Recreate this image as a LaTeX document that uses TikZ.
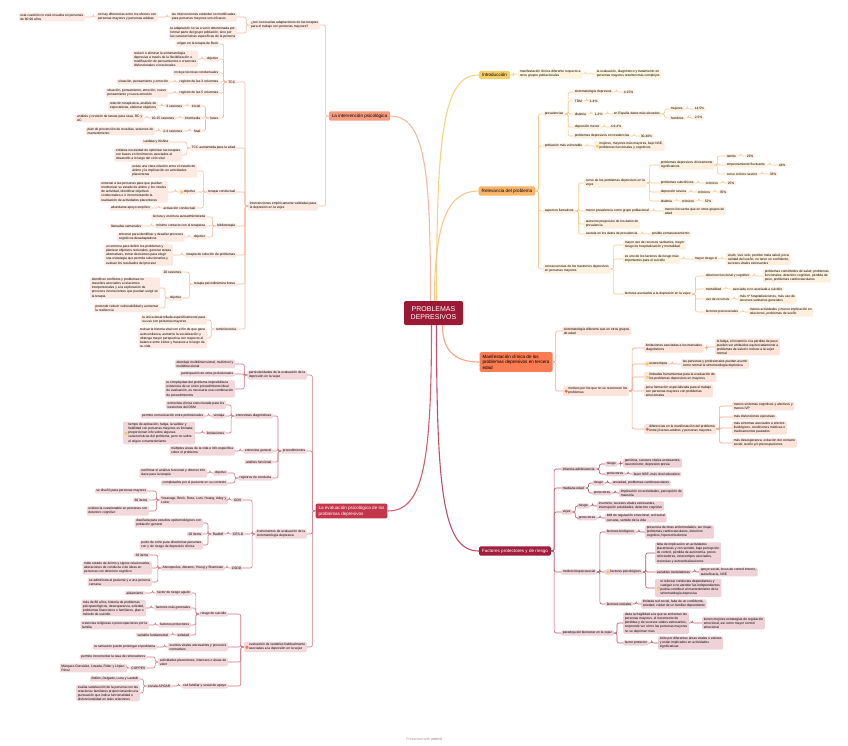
\documentclass[tikz,border=0pt]{standalone}
\usepackage{fontspec}
\setmainfont{Liberation Sans}
\usetikzlibrary{positioning}

\definecolor{pdFill}{HTML}{9A1A35}
\definecolor{ivFill}{HTML}{FCE9E1}
\definecolor{ivLine}{HTML}{F6B8A2}
\definecolor{ivMain}{HTML}{F59C7E}
\definecolor{evFill}{HTML}{F2D7DB}
\definecolor{evLine}{HTML}{D07585}
\definecolor{evMain}{HTML}{C3364B}
\definecolor{inFill}{HTML}{FDF5DD}
\definecolor{inLine}{HTML}{F3D47F}
\definecolor{inMain}{HTML}{F4D068}
\definecolor{reFill}{HTML}{FEF0DF}
\definecolor{reLine}{HTML}{FAC78D}
\definecolor{reMain}{HTML}{FBB46A}
\definecolor{maFill}{HTML}{FCE4DA}
\definecolor{maLine}{HTML}{F7A487}
\definecolor{maMain}{HTML}{F97C52}
\definecolor{faFill}{HTML}{EFD2D8}
\definecolor{faLine}{HTML}{BD4F6B}
\definecolor{faMain}{HTML}{A21D3D}
\definecolor{iconYel}{HTML}{F5BE1A}
\definecolor{iconYelL}{HTML}{FCE27A}
\definecolor{iconRed}{HTML}{E8553A}

\newcommand\icony{\tikz[baseline=-1pt]{\fill[iconYel] (0,0) circle (1.5pt); \fill[iconYelL] (0,0) circle (0.7pt);}}
\newcommand\iconr{\tikz[baseline=-1pt]{\draw[iconRed, line width=0.45pt, fill=white] (0,0) circle (1.25pt); \fill[iconRed] (0,0) circle (0.55pt);}}
\newcommand\blk[1]{\begin{tabular}[c]{@{}l@{}}#1\end{tabular}}

\tikzset{
  txt/.style={rounded corners=1.2pt, inner xsep=1.6pt, inner ysep=1pt, align=left,
    font=\fontsize{3.3}{4.1}\selectfont},
  ivbox/.style={txt, fill=ivFill, anchor=east},
  evbox/.style={txt, fill=evFill, anchor=east},
  inbox/.style={txt, fill=inFill, anchor=west},
  rebox/.style={txt, fill=reFill, anchor=west},
  mabox/.style={txt, fill=maFill, anchor=west},
  fabox/.style={txt, fill=faFill, anchor=west},
  mainbox/.style={rounded corners=1.5pt, inner xsep=3pt, inner ysep=2.5pt, align=left,
    font=\fontsize{4.6}{5.6}\selectfont},
  pdbox/.style={rounded corners=2pt, fill=pdFill, text=white, align=center,
    minimum width=59pt, minimum height=24pt, font=\fontsize{7}{8.5}\selectfont},
  ivline/.style={draw=ivLine, line width=0.6pt, rounded corners=2pt},
  evline/.style={draw=evLine, line width=0.6pt, rounded corners=2pt},
  introline/.style={draw=inLine, line width=0.6pt, rounded corners=2pt},
  reline/.style={draw=reLine, line width=0.6pt, rounded corners=2pt},
  maline/.style={draw=maLine, line width=0.6pt, rounded corners=2pt},
  faline/.style={draw=faLine, line width=0.6pt, rounded corners=2pt},
}

\begin{document}
\begin{tikzpicture}[x=1pt,y=-1pt]
\useasboundingbox (0,0) rectangle (848,745);

% centre and main branches
\node[pdbox] (pd) at (433.5,313) {PROBLEMAS\\DEPRESIVOS};
\node[mainbox, fill=ivMain] (iM) at (359.5,116) {La intervención psicológica};
\node[mainbox, fill=evMain, text=white] (eM) at (351.5,511) {La evaluación psicológica de los\\problemas depresivos};
\node[mainbox, fill=inMain] (nM) at (494.5,75) {Introducción};
\node[mainbox, fill=reMain] (rM) at (507,191) {Relevancia del problema};
\node[mainbox, fill=maMain] (mM) at (516,362) {Manifestación clínica de los\\problemas depresivos en tercera\\edad};
\node[mainbox, fill=faMain, text=white] (fM) at (515,551) {Factores protectores y de riesgo};

% la intervencion psicologica
\node[ivbox] (i1) at (85,17) {esta cuestión no está resuelta en personas\\de 80-90 años};
\node[ivbox] (i2) at (158,17) {no hay diferencias entre los efectos con\\personas mayores y personas adultas};
\node[ivbox] (i3) at (237,17) {las intervenciones estándar no modificadas\\para personas mayores son eficaces};
\node[ivbox] (i4) at (237,33) {la adaptación no va a venir determinada por\\formar parte del grupo población, sino por\\las características específicas de la persona};
\node[ivbox] (i5) at (320,25) {¿son necesarias adaptaciones de las terapias\\para el trabajo con personas mayores?};
\node[ivbox] (i6) at (318,206) {intervenciones empíricamente validadas para\\la depresión en la vejez};

\node[ivbox] (iT) at (237,82) {TCC};
\node[ivbox] (iT1) at (220,44) {origen en la terapia de Beck};
\node[ivbox] (iT2) at (220,59) {objetivo};
\node[ivbox] (iT2a) at (198,59) {reducir o eliminar la sintomatología\\depresiva a través de la flexibilización o\\modificación de pensamientos o creencias\\disfuncionales o irracionales};
\node[ivbox] (iT3) at (220,73) {incluye técnicas conductuales};
\node[ivbox] (iT4) at (220,82) {registro de las 3 columnas};
\node[ivbox] (iT4a) at (170,82) {situación, pensamiento y emoción};
\node[ivbox] (iT5) at (220,93) {registro de las 5 columnas};
\node[ivbox] (iT5a) at (168,93) {situación, pensamiento, emoción, nuevo\\pensamiento y nueva emoción};
\node[ivbox] (iT6) at (220,118) {fases};
\node[ivbox] (iF1) at (202,106) {inicial};
\node[ivbox] (iF1a) at (184,106) {3 sesiones};
\node[ivbox] (iF1b) at (158,106) {relación terapéutica, análisis de\\expectativas, elaborar objetivos};
\node[ivbox] (iF2) at (202,118) {intermedia};
\node[ivbox] (iF2a) at (176,118) {10-15 sesiones};
\node[ivbox] (iF2b) at (144,118) {análisis y revisión de tareas para casa, RC y\\AC};
\node[ivbox] (iF3) at (202,131) {final};
\node[ivbox] (iF3a) at (184,131) {2-4 sesiones};
\node[ivbox] (iF3b) at (155,131) {plan de prevención de recaídas, sesiones de\\mantenimiento};

\node[ivbox] (iA) at (237,148) {TCC aumentada para la edad};
\node[ivbox] (iA1) at (170,142) {Laidlaw y Kishita};
\node[ivbox] (iA2) at (182,155) {enfatiza necesidad de optimizar las terapias\\con bases en fenómenos asociados al\\desarrollo a lo largo del ciclo vital};

\node[ivbox] (iC) at (237,192) {terapia conductual};
\node[ivbox] (iC1) at (197,171) {existe una clara relación entre el estado de\\ánimo y la implicación en actividades\\placenteras};
\node[ivbox] (iC2) at (197,192) {\icony\,objetivo};
\node[ivbox] (iC2a) at (168,192) {entrenar a las personas para que puedan\\monitorizar su estado de ánimo y los niveles\\de actividad, identificar objetivos\\conductuales e ir incrementando la\\realización de actividades placenteras};
\node[ivbox] (iC3) at (197,208) {activación conductual};
\node[ivbox] (iC3a) at (152,208) {abundante apoyo empírico};

\node[ivbox] (iB) at (237,226) {biblioterapia};
\node[ivbox] (iB1) at (207,217) {lectura y escritura autoadministrada};
\node[ivbox] (iB2) at (207,226) {mínimo contacto con el terapeuta};
\node[ivbox] (iB2a) at (143,226) {llamadas semanales};
\node[ivbox] (iB3) at (207,237) {objetivo};
\node[ivbox] (iB3a) at (185,237) {entrenar para identificar y desafiar procesos\\cognitivos desadaptativos};

\node[ivbox] (iS) at (237,255) {terapia de solución de problemas};
\node[ivbox] (iS1) at (173,255) {un entrena para definir los problemas y\\plantear objetivos racionales, generar tareas\\alternativas, tomar decisiones para elegir\\una estrategia que permita solucionarlos y\\evaluar los resultados del proceso};

\node[ivbox] (iP) at (237,284) {terapia psicodinámica breve};
\node[ivbox] (iP1) at (183,272) {20 sesiones};
\node[ivbox] (iP2) at (183,298) {objetivo};
\node[ivbox] (iP2a) at (160,288) {identificar conflictos y problemas no\\resueltos asociados a relaciones\\interpersonales y a la exploración de\\procesos inconscientes que puedan surgir en\\la terapia};
\node[ivbox] (iP3) at (160,308) {pretende reducir vulnerabilidad y aumentar\\la resiliencia};

\node[ivbox] (iR) at (238,329) {reminiscencia};
\node[ivbox] (iR1) at (207,320) {la única desarrollada específicamente para\\su uso con personas mayores};
\node[ivbox] (iR2) at (207,338) {revisar la historia vital con el fin de que gane\\autoconfianza, aumente la socialización y\\obtenga mayor perspectiva con respecto al\\balance entre éxitos y fracasos a lo largo de\\su vida};

% la evaluacion psicologica
\node[evbox] (e1) at (307,375) {particularidades de la evaluación de la\\depresión en la vejez};
\node[evbox] (e1a) at (235,364) {abordaje multidimensional, multinivel y\\multidireccional};
\node[evbox] (e1b) at (235,374) {participación de otros profesionales};
\node[evbox] (e1c) at (235,389) {la complejidad del problema imposibilita la\\existencia de un único procedimiento ideal\\de evaluación, es necesaria una combinación\\de procedimientos};

\node[evbox] (e2) at (307,451) {procedimientos};
\node[evbox] (e2a) at (273,416) {entrevistas diagnósticas};
\node[evbox] (e2a1) at (226,405) {entrevista clínica estructurada para los\\trastornos del DSM};
\node[evbox] (e2a2) at (226,416) {ventaja};
\node[evbox] (e2a2a) at (205,416) {permite comunicación entre profesionales};
\node[evbox] (e2a3) at (226,433) {limitaciones};
\node[evbox] (e2a3a) at (195,433) {\icony\,\blk{tiempo de aplicación, fatiga, la validez y\\fiabilidad con personas mayores es limitada;\\proporcionan info sobre algunas\\características del problema, pero no sobre\\el origen o mantenimiento}};
\node[evbox] (e2b) at (273,451) {entrevista general};
\node[evbox] (e2b1) at (235,451) {múltiples áreas de la vida e info específica\\sobre el problema};
\node[evbox] (e2c) at (273,462) {análisis funcional};
\node[evbox] (e2d) at (273,478) {registros de conducta};
\node[evbox] (e2d1) at (228,473) {objetivo};
\node[evbox] (e2d1a) at (207,473) {confirmar el análisis funcional y obtener info\\clave para la terapia};
\node[evbox] (e2d2) at (228,483) {completados por el paciente en su contexto};

\node[evbox] (e3) at (307,534) {instrumentos de evaluación de la\\sintomatología depresiva};
\node[evbox] (e3a) at (243,500) {GDS};
\node[evbox] (e3a1) at (228,500) {Yesavage, Brink, Rose, Lum, Huang, Adey y\\Leirer};
\node[evbox] (e3a1a) at (148,491) {se diseñó para personas mayores};
\node[evbox] (e3a1b) at (149,500) {30 ítems};
\node[evbox] (e3a1c) at (149,511) {evidencia cuestionable en personas con\\deterioro cognitivo};
\node[evbox] (e3b) at (245,534) {CES-D};
\node[evbox] (e3b1) at (225,534) {Radloff};
\node[evbox] (e3b1a) at (203,523) {diseñada para estudios epidemiológicos con\\población general};
\node[evbox] (e3b1b) at (203,534) {20 ítems};
\node[evbox] (e3b1c) at (203,545) {punto de corte para discriminar personas\\con y sin riesgo de depresión clínica};
\node[evbox] (e3c) at (243,568) {CSDD};
\node[evbox] (e3c1) at (225,568) {Alexopoulos, Abrams, Young y Shamoian};
\node[evbox] (e3c1a) at (150,555) {19 ítems};
\node[evbox] (e3c1b) at (152,568) {mide estado de ánimo y signos relacionados,\\alteraciones de conducta o de ideas en\\personas con deterioro cognitivo};
\node[evbox] (e3c1c) at (152,582) {se administra al paciente y a una persona\\cercana};

\node[evbox] (e4) at (307,647) {\iconr\,\blk{evaluación de variables habitualmente\\asociadas a la depresión en la vejez}};
\node[evbox] (e4a) at (228,614) {riesgo de suicidio};
\node[evbox] (e4a1) at (192,593) {factor de riesgo agudo};
\node[evbox] (e4a1a) at (145,593) {aislamiento};
\node[evbox] (e4a2) at (192,608) {factores más generales};
\node[evbox] (e4a2a) at (146,608) {más de 80 años, historia de problemas\\psicopatológicos, desesperanza, soledad,\\problemas financieros o familiares, plan o\\método de suicidio};
\node[evbox] (e4a3) at (191,625) {factores protectores};
\node[evbox] (e4a3a) at (149,625) {creencias religiosas o preocupaciones por la\\familia};
\node[evbox] (e4a4) at (191,635) {soledad};
\node[evbox] (e4a4a) at (170,635) {variable fundamental};
\node[evbox] (e4b) at (228,647) {eventos vitales estresantes y procesos\\normativos};
\node[evbox] (e4b1) at (157,647) {la rumiación puede prolongar el problema};
\node[evbox] (e4c) at (228,662) {actividades placenteras, intereses o áreas de\\valor};
\node[evbox] (e4c1) at (147,657) {permite incrementar la tasa de reforzadores};
\node[evbox] (e4c2) at (147,668) {COPPES};
\node[evbox] (e4c2a) at (127,668) {Márquez-González, Losada, Rider y López-\\Pérez};
\node[evbox] (e4d) at (228,686) {red familiar y social de apoyo};
\node[evbox] (e4d1) at (172,686) {escala APGAR};
\node[evbox] (e4d1a) at (140,679) {Bellón, Delgado, Luna y Lardelli};
\node[evbox] (e4d1b) at (140,693) {evalúa satisfacción de la persona con las\\relaciones familiares proporcionando una\\puntuación que indica funcionalidad o\\disfuncionalidad en tales relaciones};

% introduccion
\node[inbox] (n1) at (518,74) {manifestación clínica diferente respecto a\\otros grupos poblacionales};
\node[inbox] (n2) at (595,74) {la evaluación, diagnóstico y tratamiento en\\personas mayores resultan más complejos};

% relevancia del problema
\node[rebox] (r1) at (543,114) {prevalencias};
\node[rebox] (r1a) at (573,92) {sintomatología depresiva};
\node[rebox] (r1a1) at (622,92) {4-15\%};
\node[rebox] (r1b) at (573,101) {TDM};
\node[rebox] (r1b1) at (588,101) {1-4\%};
\node[rebox] (r1c) at (573,114) {distimia};
\node[rebox] (r1c1) at (593,114) {1-2\%};
\node[rebox] (r1c2) at (612,114) {en España datos más elevados};
\node[rebox] (r1c3) at (669,109) {mujeres};
\node[rebox] (r1c3a) at (693,109) {14,5\%};
\node[rebox] (r1c4) at (669,118) {hombres};
\node[rebox] (r1c4a) at (693,118) {2,5\%};
\node[rebox] (r1d) at (573,127) {depresión menor};
\node[rebox] (r1d1) at (609,127) {4-9,4\%};
\node[rebox] (r1e) at (573,136) {problemas depresivos en residencias};
\node[rebox] (r1e1) at (639,136) {30-40\%};
\node[rebox] (r2) at (543,146) {población más vulnerable};
\node[rebox] (r2a) at (594,146) {\icony\,\blk{mujeres, mayores más mayores, bajo NSE,\\problemas funcionales y cognitivos}};
\node[rebox] (r3) at (543,211) {aspectos llamativos};
\node[rebox] (r3a) at (584,183) {curso de los problemas depresivos en la\\vejez};
\node[rebox] (r3a1) at (659,165) {problemas depresivos clínicamente\\significativos};
\node[rebox] (r3a1a) at (725,156) {remite};
\node[rebox] (r3a1a1) at (745,156) {23\%};
\node[rebox] (r3a1b) at (725,165) {empeoramiento fluctuante};
\node[rebox] (r3a1b1) at (777,165) {44\%};
\node[rebox] (r3a1c) at (725,174) {curso crónico severo};
\node[rebox] (r3a1c1) at (768,174) {33\%};
\node[rebox] (r3a2) at (659,183) {problemas subclínicos};
\node[rebox] (r3a2a) at (704,183) {crónicos};
\node[rebox] (r3a2b) at (726,183) {25\%};
\node[rebox] (r3a3) at (659,192) {depresión severa};
\node[rebox] (r3a3a) at (696,192) {crónicos};
\node[rebox] (r3a3b) at (718,192) {35\%};
\node[rebox] (r3a4) at (659,201) {distimia};
\node[rebox] (r3a4a) at (680,201) {crónicos};
\node[rebox] (r3a4b) at (703,201) {52\%};
\node[rebox] (r3b) at (584,211) {menor prevalencia como grupo poblacional};
\node[rebox] (r3b1) at (663,211) {menos frecuente que en otros grupos de\\edad};
\node[rebox] (r3c) at (584,224) {aumento progresivo de los datos de\\prevalencia};
\node[rebox] (r3d) at (584,234) {cautela en los datos de prevalencia};
\node[rebox] (r3d1) at (650,234) {posible enmascaramiento};
\node[rebox] (r4) at (543,269) {consecuencias de los trastornos depresivos\\en personas mayores};
\node[rebox] (r4a) at (623,245) {mayor uso de recursos sanitarios, mayor\\riesgo de hospitalización y mortalidad};
\node[rebox] (r4b) at (623,259) {es uno de los factores de riesgo más\\importantes para el suicidio};
\node[rebox] (r4b1) at (693,259) {mayor riesgo si};
\node[rebox] (r4b1a) at (726,259) {viudo, vive solo, percibe mala salud, poca\\calidad del sueño, no tener un confidente,\\sucesos vitales estresantes};
\node[rebox] (r4c) at (623,294) {factores asociados a la depresión en la vejez};
\node[rebox] (r4c1) at (704,276) {deterioro funcional y cognitivo};
\node[rebox] (r4c1a) at (763,276) {problemas comórbidos de salud, problemas\\funcionales, deterioro cognitivo, pérdida de\\peso, problemas cardiovasculares};
\node[rebox] (r4c2) at (704,289) {mortalidad};
\node[rebox] (r4c2a) at (731,289) {asociada o no asociada a suicidio};
\node[rebox] (r4c3) at (704,299) {uso de recursos};
\node[rebox] (r4c3a) at (738,299) {más nº hospitalizaciones, más uso de\\recursos sanitarios generales};
\node[rebox] (r4c4) at (704,312) {factores psicosociales};
\node[rebox] (r4c4a) at (748,312) {menos actividades y menor implicación en\\relaciones, problemas de sueño};

% manifestacion clinica
\node[mabox] (m1) at (562,331) {sintomatología diferente que en otros grupos\\de edad};
\node[mabox] (m2) at (563,391) {\iconr\,\blk{motivos por los que no se reconocen los\\problemas}};
\node[mabox] (m2a) at (644,348) {limitaciones asociadas a los manuales\\diagnósticos};
\node[mabox] (m2a1) at (715,347) {la fatiga, el insomnio o la pérdida de peso\\pueden ser atribuidos equivocadamente a\\problemas de salud o incluso a la vejez\\normal};
\node[mabox] (m2b) at (644,364) {\icony\,estereotipos};
\node[mabox] (m2b1) at (681,364) {las personas y profesionales pueden asumir\\como normal la sintomatología depresiva};
\node[mabox] (m2c) at (644,377) {\icony\,\blk{limitadas herramientas para la evaluación de\\los problemas depresivos en mayores}};
\node[mabox] (m2d) at (644,391) {poca formación especializada para el trabajo\\con personas mayores con problemas\\emocionales};
\node[mabox] (m2e) at (644,429) {\iconr\,\blk{diferencias en la manifestación del problema\\entre jóvenes-adultos y personas mayores}};
\node[mabox] (m2e1) at (732,406) {menos síntomas cognitivos y afectivos y\\menos IVP};
\node[mabox] (m2e2) at (732,417) {más disfunciones ejecutivas};
\node[mabox] (m2e3) at (732,428) {más síntomas asociados a efectos\\fisiológicos, condiciones médicas o\\medicamentos pautados};
\node[mabox] (m2e4) at (732,443) {más desesperanza, evitación del contacto\\social, sueño y/o preocupaciones};

% factores protectores y de riesgo
\node[fabox] (f1) at (561,469) {infancia-adolescencia};
\node[fabox] (f1a) at (605,464) {riesgo};
\node[fabox] (f1a1) at (623,463) {genética, sucesos vitales estresantes,\\neuroticismo, depresión previa};
\node[fabox] (f1b) at (605,474) {protectores};
\node[fabox] (f1b1) at (632,474) {buen NSE, más nivel educativo};
\node[fabox] (f2) at (561,488) {mediana edad};
\node[fabox] (f2a) at (592,483) {riesgo};
\node[fabox] (f2a1) at (611,483) {ansiedad, problemas cardiovasculares};
\node[fabox] (f2b) at (592,493) {protectores};
\node[fabox] (f2b1) at (619,493) {implicación en actividades, percepción de\\maestría};
\node[fabox] (f3) at (561,512) {vejez};
\node[fabox] (f3a) at (577,506) {riesgo};
\node[fabox] (f3a1) at (597,506) {insomnio, sucesos vitales estresantes,\\interrupción actividades, deterioro cognitivo};
\node[fabox] (f3b) at (577,518) {protectores};
\node[fabox] (f3b1) at (605,518) {MM de regulación emocional, red social\\cercana, sentido de la vida};
\node[fabox] (f4) at (561,572) {modelo biopsicosocial};
\node[fabox] (f4a) at (605,532) {factores biológicos};
\node[fabox] (f4a1) at (645,532) {presencia de otras enfermedades, ser mujer,\\problemas cardiovasculares, deterioro\\cognitivo, hipercortisolemia};
\node[fabox] (f4b) at (605,572) {\icony\,factores psicológicos};
\node[fabox] (f4b1) at (655,553) {falta de implicación en actividades\\placenteras y con sentido, baja percepción\\de control, pérdida de autonomía, pocos\\reforzadores, estereotipos asociados,\\creencias y autoverbalizaciones};
\node[fabox] (f4b2) at (655,572) {variables moduladoras};
\node[fabox] (f4b2a) at (699,572) {apoyo social, locus de control interno,\\autoeficacia, NSE};
\node[fabox] (f4b3) at (655,588) {\icony\,\blk{el reforzar conductas dependientes y\\castigar o no atender las independientes\\podría contribuir al mantenimiento de la\\sintomatología depresiva}};
\node[fabox] (f4c) at (605,604) {factores sociales};
\node[fabox] (f4c1) at (641,604) {limitada red social, falta de un confidente,\\soledad, cuidar de un familiar dependiente};
\node[fabox] (f5) at (561,633) {paradoja del bienestar en la vejez};
\node[fabox] (f5a) at (623,623) {dada la fragilidad a la que se enfrentan las\\personas mayores, el incremento de\\pérdidas y de sucesos vitales estresantes,\\sorprende ver cómo las personas mayores\\no se deprimen más};
\node[fabox] (f5a1) at (702,623) {tienen mejores estrategias de regulación\\emocional, así como mayor control\\emocional};
\node[fabox] (f5b) at (623,643) {factor protector};
\node[fabox] (f5b1) at (658,643) {éxito por diferentes áreas vitales o valores\\y están implicados en actividades\\significativas};

\node[font=\fontsize{3.6}{4}\selectfont, text=black!40] (xm) at (424,739) {Presented with \textbf{xmind}};

% curves from the centre
\draw[ivLine, line width=1.1pt] ([xshift=-3pt]pd.north) .. controls +(0,-130) and +(35,0) .. (iM.east);
\draw[inLine, line width=1.1pt] ([xshift=3pt]pd.north) .. controls +(0,-170) and +(-35,0) .. (nM.west);
\draw[reLine, line width=1.1pt] ([xshift=1pt]pd.north) .. controls +(0,-80) and +(-30,0) .. (rM.west);
\draw[maLine, line width=1.1pt] ([xshift=9pt]pd.south) .. controls +(0,25) and +(-25,0) .. (mM.west);
\draw[faLine, line width=1.1pt] ([xshift=3pt]pd.south) .. controls +(0,170) and +(-35,0) .. (fM.west);
\draw[evMain!80, line width=1.1pt] ([xshift=-2pt]pd.south) .. controls +(0,140) and +(35,0) .. (eM.east);

% connectors on the left
\foreach \p/\c in {iM/i5,iM/i6,i5/i3,i5/i4,i3/i2,i2/i1,
  i6/iT,i6/iA,i6/iC,i6/iB,i6/iS,i6/iP,i6/iR,
  iT/iT1,iT/iT2,iT/iT3,iT/iT4,iT/iT5,iT/iT6,iT2/iT2a,iT4/iT4a,iT5/iT5a,
  iT6/iF1,iT6/iF2,iT6/iF3,iF1/iF1a,iF1a/iF1b,iF2/iF2a,iF2a/iF2b,iF3/iF3a,iF3a/iF3b,
  iA/iA1,iA/iA2,iC/iC1,iC/iC2,iC/iC3,iC2/iC2a,iC3/iC3a,
  iB/iB1,iB/iB2,iB/iB3,iB2/iB2a,iB3/iB3a,iS/iS1,
  iP/iP1,iP/iP2,iP2/iP2a,iP2/iP3,iR/iR1,iR/iR2}
  \draw[ivline] (\p.west) -- ++(-3,0) |- (\c.east);

\foreach \p/\c in {eM/e1,eM/e2,eM/e3,eM/e4,e1/e1a,e1/e1b,e1/e1c,
  e2/e2a,e2/e2b,e2/e2c,e2/e2d,e2a/e2a1,e2a/e2a2,e2a/e2a3,e2a2/e2a2a,e2a3/e2a3a,
  e2b/e2b1,e2d/e2d1,e2d/e2d2,e2d1/e2d1a,
  e3/e3a,e3/e3b,e3/e3c,e3a/e3a1,e3a1/e3a1a,e3a1/e3a1b,e3a1/e3a1c,
  e3b/e3b1,e3b1/e3b1a,e3b1/e3b1b,e3b1/e3b1c,e3c/e3c1,e3c1/e3c1a,e3c1/e3c1b,e3c1/e3c1c,
  e4/e4a,e4/e4b,e4/e4c,e4/e4d,e4a/e4a1,e4a/e4a2,e4a/e4a3,e4a/e4a4,
  e4a1/e4a1a,e4a2/e4a2a,e4a3/e4a3a,e4a4/e4a4a,e4b/e4b1,e4c/e4c1,e4c/e4c2,e4c2/e4c2a,
  e4d/e4d1,e4d1/e4d1a,e4d1/e4d1b}
  \draw[evline] (\p.west) -- ++(-3,0) |- (\c.east);

% connectors on the right
\foreach \p/\c in {nM/n1,n1/n2}
  \draw[introline] (\p.east) -- ++(3,0) |- (\c.west);

\foreach \p/\c in {rM/r1,rM/r2,rM/r3,rM/r4,
  r1/r1a,r1/r1b,r1/r1c,r1/r1d,r1/r1e,r1a/r1a1,r1b/r1b1,r1c/r1c1,r1c1/r1c2,
  r1c2/r1c3,r1c2/r1c4,r1c3/r1c3a,r1c4/r1c4a,r1d/r1d1,r1e/r1e1,r2/r2a,
  r3/r3a,r3/r3b,r3/r3c,r3/r3d,r3a/r3a1,r3a/r3a2,r3a/r3a3,r3a/r3a4,
  r3a1/r3a1a,r3a1/r3a1b,r3a1/r3a1c,r3a1a/r3a1a1,r3a1b/r3a1b1,r3a1c/r3a1c1,
  r3a2/r3a2a,r3a2a/r3a2b,r3a3/r3a3a,r3a3a/r3a3b,r3a4/r3a4a,r3a4a/r3a4b,
  r3b/r3b1,r3d/r3d1,r4/r4a,r4/r4b,r4/r4c,r4b/r4b1,r4b1/r4b1a,
  r4c/r4c1,r4c/r4c2,r4c/r4c3,r4c/r4c4,r4c1/r4c1a,r4c2/r4c2a,r4c3/r4c3a,r4c4/r4c4a}
  \draw[reline] (\p.east) -- ++(3,0) |- (\c.west);

\foreach \p/\c in {mM/m1,mM/m2,m2/m2a,m2/m2b,m2/m2c,m2/m2d,m2/m2e,
  m2a/m2a1,m2b/m2b1,m2e/m2e1,m2e/m2e2,m2e/m2e3,m2e/m2e4}
  \draw[maline] (\p.east) -- ++(3,0) |- (\c.west);

\foreach \p/\c in {fM/f1,fM/f2,fM/f3,fM/f4,fM/f5,
  f1/f1a,f1/f1b,f1a/f1a1,f1b/f1b1,f2/f2a,f2/f2b,f2a/f2a1,f2b/f2b1,
  f3/f3a,f3/f3b,f3a/f3a1,f3b/f3b1,f4/f4a,f4/f4b,f4/f4c,f4a/f4a1,
  f4b/f4b1,f4b/f4b2,f4b/f4b3,f4b2/f4b2a,f4c/f4c1,f5/f5a,f5/f5b,f5a/f5a1,f5b/f5b1}
  \draw[faline] (\p.east) -- ++(3,0) |- (\c.west);
\end{tikzpicture}
\end{document}
